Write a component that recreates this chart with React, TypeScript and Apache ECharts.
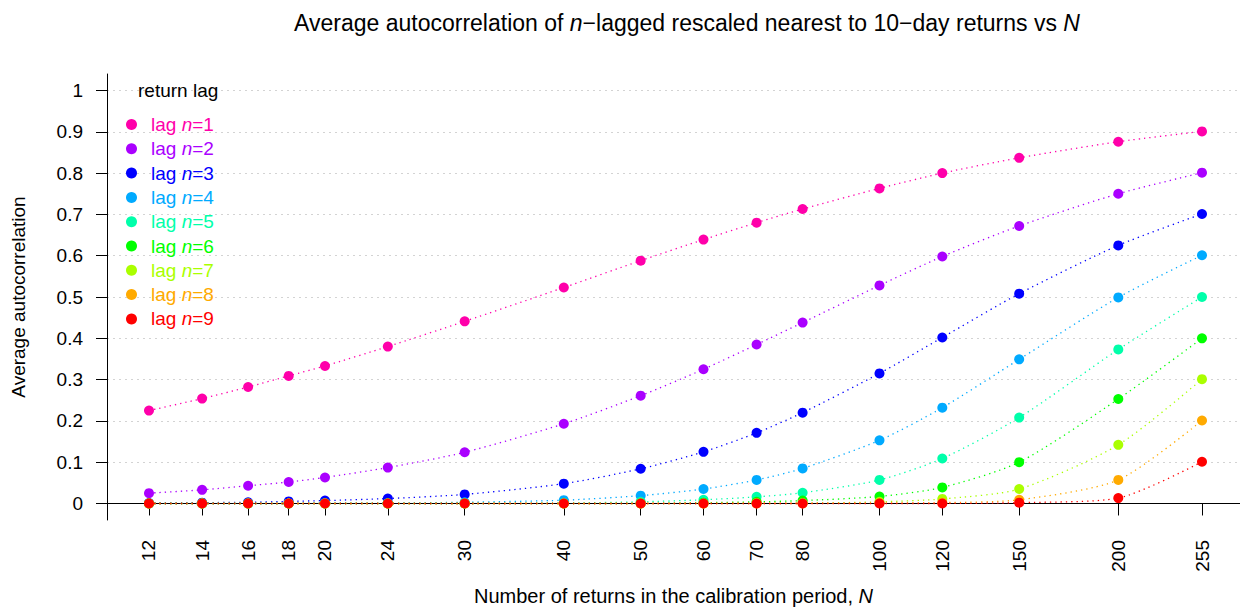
import React, { useEffect, useRef } from "react";
import * as echarts from "echarts";

const returnsN = [12, 14, 16, 18, 20, 24, 30, 40, 50, 60, 70, 80, 100, 120, 150, 200, 255];
const xTickLabels = [12, 14, 16, 18, 20, 24, 30, 40, 50, 60, 70, 80, 100, 120, 150, 200, 255];
const yTickValues = [0, 0.1, 0.2, 0.3, 0.4, 0.5, 0.6, 0.7, 0.8, 0.9, 1];

const lag1 = [0.225, 0.254, 0.282, 0.309, 0.333, 0.38, 0.441, 0.523, 0.588, 0.639, 0.68, 0.713, 0.763, 0.8, 0.837, 0.876, 0.901];
const lag2 = [0.025, 0.033, 0.043, 0.052, 0.063, 0.087, 0.124, 0.193, 0.261, 0.325, 0.385, 0.438, 0.528, 0.598, 0.672, 0.75, 0.801];
const lag3 = [0.001, 0.002, 0.003, 0.005, 0.007, 0.012, 0.022, 0.048, 0.084, 0.125, 0.171, 0.22, 0.315, 0.402, 0.508, 0.625, 0.701];
const lag4 = [0, 0, 0, 0, 0.001, 0.001, 0.003, 0.008, 0.019, 0.035, 0.057, 0.085, 0.153, 0.232, 0.349, 0.499, 0.601];
const lag5 = [0, 0, 0, 0, 0, 0, 0, 0.001, 0.004, 0.009, 0.016, 0.026, 0.057, 0.109, 0.208, 0.373, 0.5];
const lag6 = [0, 0, 0, 0, 0, 0, 0, 0, 0, 0.002, 0.004, 0.007, 0.017, 0.039, 0.1, 0.253, 0.4];
const lag7 = [0, 0, 0, 0, 0, 0, 0, 0, 0, 0, 0.001, 0.001, 0.004, 0.011, 0.035, 0.142, 0.301];
const lag8 = [0, 0, 0, 0, 0, 0, 0, 0, 0, 0, 0, 0, 0.001, 0.002, 0.009, 0.057, 0.201];
const lag9 = [0, 0, 0, 0, 0, 0, 0, 0, 0, 0, 0, 0, 0, 0, 0.002, 0.013, 0.101];

const lagSeries = [lag1, lag2, lag3, lag4, lag5, lag6, lag7, lag8, lag9];
const lagNames = ["1", "2", "3", "4", "5", "6", "7", "8", "9"];
const lagColors = ["#FF00AA", "#AA00FF", "#0000FF", "#00AAFF", "#00FFAA", "#00FF00", "#AAFF00", "#FFAA00", "#FF0000"];

const FONT = "'Liberation Sans', Arial, Helvetica, sans-serif";
const FS = 19;

export default function App() {
  const ref = useRef<HTMLDivElement>(null);
  useEffect(() => {
    if (!ref.current) return;
    const chart = echarts.init(ref.current, null, { renderer: "svg" });
    const lx = (v: number) => Math.log10(v);
    const xMin = lx(12) - 0.05294;
    const xMax = lx(255) + 0.0479;

    const series: any[] = lagSeries.map((vals, i) => ({
      type: "line",
      name: "lag n=" + lagNames[i],
      data: returnsN.map((n, j) => [lx(n), vals[j]]),
      symbol: "circle",
      symbolSize: 10,
      showSymbol: true,
      smooth: 0.25,
      clip: false,
      itemStyle: { color: lagColors[i] },
      lineStyle: { color: lagColors[i], width: 1.3, type: [1.3, 4] },
      z: 3,
    }));

    const option: any = {
      animation: false,
      backgroundColor: "#ffffff",
      textStyle: { fontFamily: FONT },
      title: [
        {
          text: "Average autocorrelation of {i|n}−lagged rescaled nearest to 10−day returns vs {i|N}",
          left: 682,
          top: 6,
          textAlign: "center",
          textStyle: {
            fontFamily: FONT,
            fontSize: 23,
            fontWeight: "normal",
            color: "#000",
            rich: { i: { fontFamily: FONT, fontSize: 23, fontStyle: "italic", color: "#000" } },
          },
        },
        {
          text: "return lag",
          left: 133,
          top: 76,
          textStyle: { fontFamily: FONT, fontSize: FS, fontWeight: "normal", color: "#000" },
        },
      ],
      legend: {
        orient: "vertical",
        left: 121,
        top: 110,
        icon: "circle",
        itemWidth: 11,
        itemHeight: 11,
        itemGap: 5.3,
        selectedMode: false,
        formatter: (name: string) => "lag {i|n}=" + name.split("=")[1],
        data: lagSeries.map((_, i) => ({
          name: "lag n=" + lagNames[i],
          itemStyle: { color: lagColors[i] },
          textStyle: {
            color: lagColors[i],
            fontFamily: FONT,
            fontSize: FS,
            lineHeight: 19,
            padding: [0, 0, 0, 9],
            rich: { i: { color: lagColors[i], fontFamily: FONT, fontSize: FS, fontStyle: "italic", lineHeight: 19 } },
          },
        })),
      },
      grid: { left: 107, top: 74, width: 1133, height: 446, containLabel: false, outerBoundsMode: "none" },
      xAxis: {
        type: "value",
        min: xMin,
        max: xMax,
        name: "Number of returns in the calibration period, {i|N}",
        nameLocation: "middle",
        nameGap: 66,
        nameTextStyle: {
          fontFamily: FONT,
          fontSize: 20,
          color: "#000",
          rich: { i: { fontFamily: FONT, fontSize: 20, fontStyle: "italic", color: "#000" } },
        },
        axisLine: { show: true, lineStyle: { color: "#000", width: 1 } },
        axisTick: {
          show: true,
          length: 12,
          customValues: xTickLabels.map(lx),
          lineStyle: { color: "#000", width: 1 },
        },
        axisLabel: {
          customValues: xTickLabels.map(lx),
          rotate: 90,
          margin: 20,
          fontFamily: FONT,
          fontSize: FS,
          color: "#000",
          formatter: (v: number) => String(Math.round(Math.pow(10, v))),
        },
        splitLine: { show: false },
      },
      yAxis: {
        type: "value",
        min: -0.04,
        max: 1.04,
        name: "Average autocorrelation",
        nameLocation: "middle",
        nameGap: 79,
        nameTextStyle: { fontFamily: FONT, fontSize: FS, color: "#000" },
        axisLine: { show: true, lineStyle: { color: "#000", width: 1 } },
        axisTick: {
          show: true,
          length: 11,
          customValues: yTickValues,
          lineStyle: { color: "#000", width: 1 },
        },
        axisLabel: {
          customValues: yTickValues,
          margin: 24,
          fontFamily: FONT,
          fontSize: FS,
          color: "#000",
          formatter: (v: number) => String(Math.round(v * 10) / 10),
        },
        splitLine: { show: true, lineStyle: { color: "#d3d3d3", width: 1, type: [2, 4] } },
      },
      series,
    };
    chart.setOption(option);
    return () => chart.dispose();
  }, []);
  return <div ref={ref} style={{ position: "fixed", left: 0, top: 0, width: 1240, height: 608 }} />;
}
